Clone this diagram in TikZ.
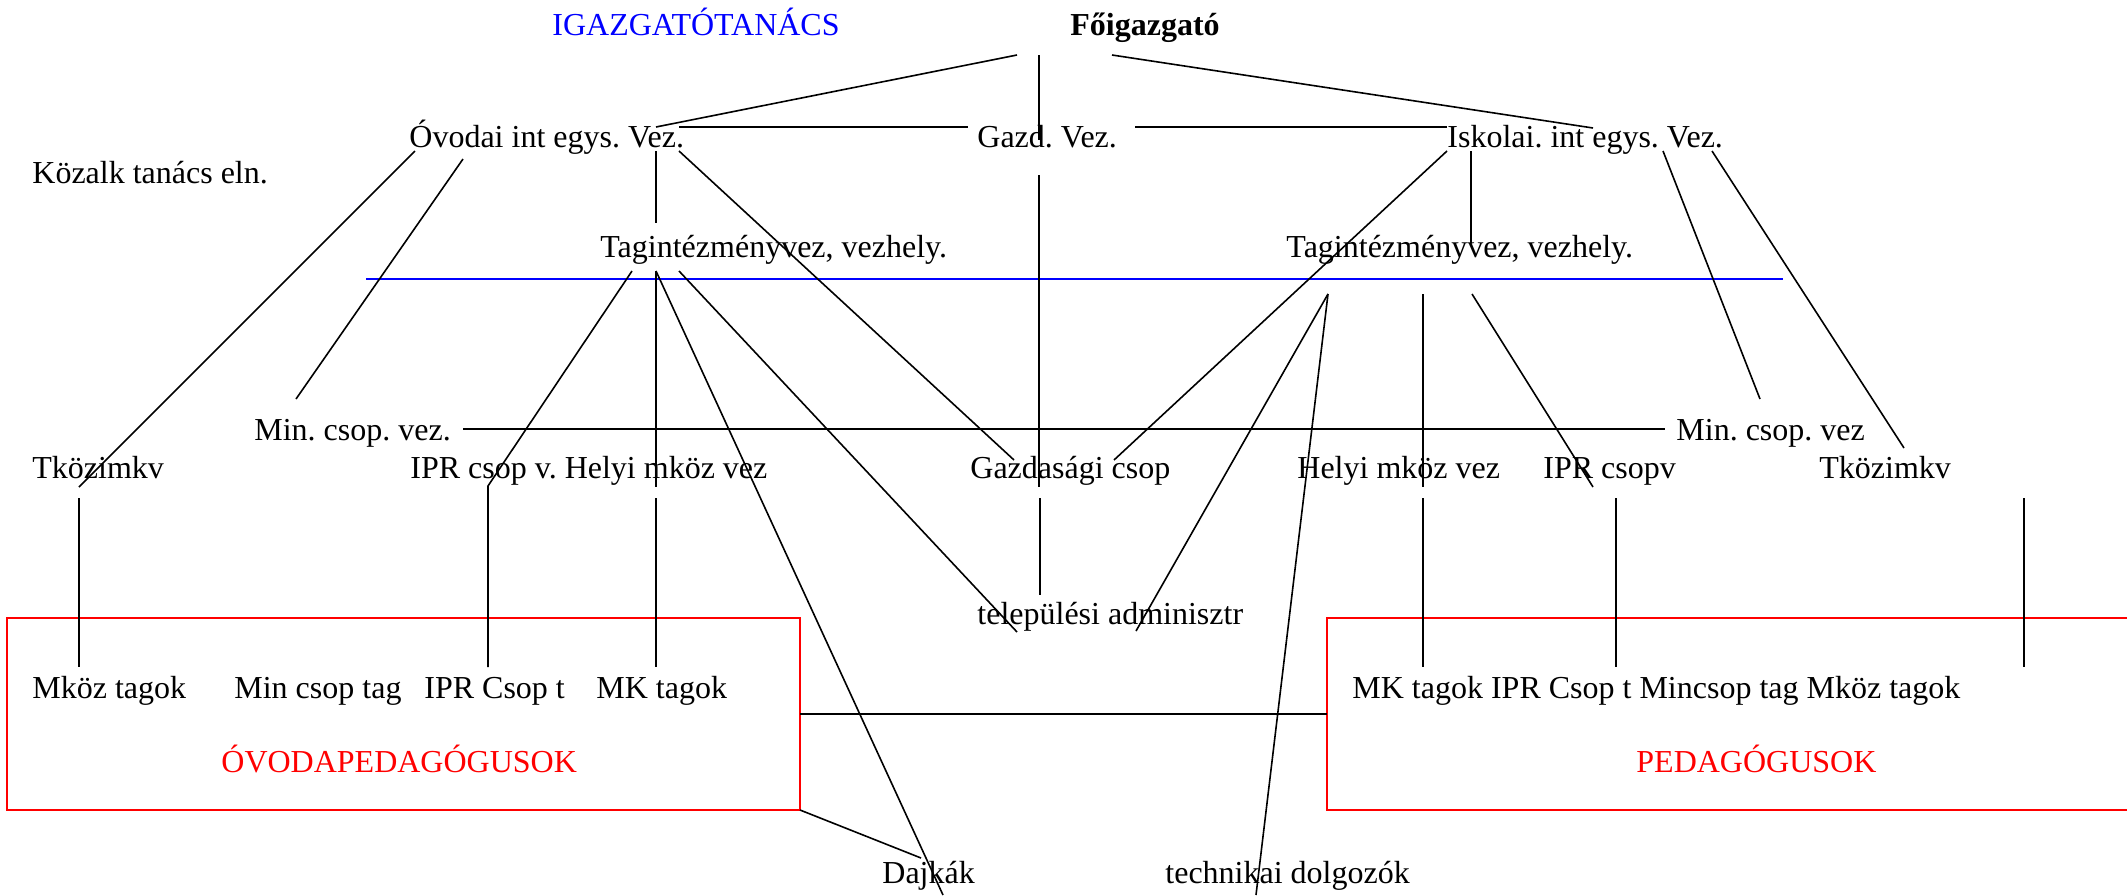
\documentclass[tikz,border=0pt]{standalone}
\usepackage{fontspec}
\setmainfont{Liberation Serif}
\frenchspacing

\begin{document}
\begin{tikzpicture}[x=0.5pt, y=-0.5pt, every node/.style={anchor=base west, inner sep=0pt, font=\fontsize{16}{18}\selectfont}, council/.style={text=blue}, group/.style={text=red}, link/.style={line width=0.8pt}, frame/.style={draw=red, line width=1pt}]
		\useasboundingbox (0,0) rectangle (2127,895);

		% top
		\node[council] (tanacs) at (552,35) {IGAZGATÓTANÁCS};
		\node[font=\fontsize{16}{18}\selectfont\bfseries] (fo) at (1070,35) {Főigazgató};
		\node (ovodai) at (409,147) {Óvodai int egys. Vez.};
		\node (gazd) at (977,147) {Gazd. Vez.};
		\node (iskolai) at (1447,147) {Iskolai. int egys. Vez.};
		\node (kozalk) at (32,183) {Közalk tanács eln.};
		\node (tagL) at (600,257) {Tagintézményvez, vezhely.};
		\node (tagR) at (1286,257) {Tagintézményvez, vezhely.};

		% middle
		\node (mincsL) at (254,440) {Min. csop. vez.};
		\node (mincsR) at (1676,440) {Min. csop. vez};
		\node (tkozL) at (32,478) {Tközimkv};
		\node (iprL) at (410,478) {IPR csop v. Helyi mköz vez};
		\node (gazdcs) at (970,478) {Gazdasági csop};
		\node (helyiR) at (1297,478) {Helyi mköz vez};
		\node (iprR) at (1543,478) {IPR csopv};
		\node (tkozR) at (1819,478) {Tközimkv};
		\node (telep) at (977,624) {települési adminisztr};

		% groups
		\node (mkozL) at (32,698) {Mköz tagok};
		\node (mincstL) at (234,698) {Min csop tag};
		\node (iprtL) at (424,698) {IPR Csop t};
		\node (mktL) at (596,698) {MK tagok};
		\node (tagokR) at (1352,698) {MK tagok IPR Csop t Mincsop tag Mköz tagok};
		\node[group] (ovped) at (221,772) {ÓVODAPEDAGÓGUSOK};
		\node[group] (ped) at (1636,772) {PEDAGÓGUSOK};
		\node (dajkak) at (882,883) {Dajkák};
		\node (techn) at (1165,883) {technikai dolgozók};

		% line ends
		\coordinate (foA) at (1017,55);
		\coordinate (foB) at (1039,55);
		\coordinate (foC) at (1112,55);
		\coordinate (ovTop) at (656,127);
		\coordinate (ovR) at (679,127);
		\coordinate (gzL) at (968,127);
		\coordinate (gzR) at (1135,127);
		\coordinate (gzTop) at (1039,140);
		\coordinate (isL) at (1447,127);
		\coordinate (isTop) at (1593,128);
		\coordinate (ovA) at (415,151);
		\coordinate (ovB) at (463,159);
		\coordinate (ovV) at (656,151);
		\coordinate (ovC) at (679,151);
		\coordinate (gzBot) at (1039,175);
		\coordinate (isA) at (1447,151);
		\coordinate (isV) at (1471,151);
		\coordinate (isB) at (1663,151);
		\coordinate (isC) at (1712,151);
		\coordinate (tagLtop) at (656,223);
		\coordinate (tagRtop) at (1471,243);
		\coordinate (blueL) at (366,279);
		\coordinate (blueR) at (1783,279);
		\coordinate (tagLa) at (632,271);
		\coordinate (tagLb) at (656,271);
		\coordinate (tagLc) at (679,271);
		\coordinate (tagRa) at (1328,294);
		\coordinate (tagRb) at (1423,294);
		\coordinate (tagRc) at (1472,294);
		\coordinate (mcLend) at (296,399);
		\coordinate (mcRend) at (1760,399);
		\coordinate (mcA) at (463,429);
		\coordinate (mcB) at (1665,429);
		\coordinate (tkRend) at (1904,448);
		\coordinate (gcA) at (1014,460);
		\coordinate (gcB) at (1114,460);
		\coordinate (tkLend) at (79,487);
		\coordinate (iprBend) at (488,486);
		\coordinate (helyiLa) at (656,487);
		\coordinate (gcTop) at (1039,487);
		\coordinate (helyiRa) at (1423,487);
		\coordinate (iprRend) at (1593,487);
		\coordinate (tkLb) at (79,498);
		\coordinate (helyiLb) at (656,498);
		\coordinate (gcBot) at (1040,498);
		\coordinate (helyiRb) at (1423,498);
		\coordinate (iprRb) at (1616,498);
		\coordinate (tkRb) at (2024,498);
		\coordinate (gcEnd) at (1040,595);
		\coordinate (telepA) at (1017,632);
		\coordinate (telepB) at (1136,631);
		\coordinate (mkozTop) at (79,667);
		\coordinate (iprtTop) at (488,667);
		\coordinate (mktTop) at (656,667);
		\coordinate (mktRTop) at (1423,667);
		\coordinate (iprtRTop) at (1616,667);
		\coordinate (mkozRTop) at (2024,667);
		\coordinate (boxLr) at (800,714);
		\coordinate (boxRl) at (1327,714);
		\coordinate (boxLcorner) at (800,810);
		\coordinate (dajkakA) at (921,858);
		\coordinate (dajkakB) at (943,895);
		\coordinate (technA) at (1256,895);

		% boxes
		\draw[frame] (7,618) rectangle (boxLcorner);
		\draw[frame] (2127,618) -- (1327,618) -- (1327,810) -- (2127,810);
		\draw[blue, line width=1pt] (blueL) -- (blueR);

		% leaders
		\draw[link] (foA) -- (ovTop);
		\draw[link] (foB) -- (gzTop);
		\draw[link] (foC) -- (isTop);
		\draw[link] (ovR) -- (gzL);
		\draw[link] (gzR) -- (isL);
		\draw[link] (ovV) -- (tagLtop);
		\draw[link] (isV) -- (tagRtop);
		\draw[link] (ovA) -- (tkLend);
		\draw[link] (ovB) -- (mcLend);
		\draw[link] (ovC) -- (gcA);
		\draw[link] (gzBot) -- (gcTop);
		\draw[link] (isA) -- (gcB);
		\draw[link] (isB) -- (mcRend);
		\draw[link] (isC) -- (tkRend);
		\draw[link] (mcA) -- (mcB);

		% from the left vice heads
		\draw[link] (tagLa) -- (iprBend) -- (iprtTop);
		\draw[link] (tagLb) -- (helyiLa);
		\draw[link] (helyiLb) -- (mktTop);
		\draw[link] (tagLb) -- (dajkakB);
		\draw[link] (tagLc) -- (telepA);

		% from the right vice heads
		\draw[link] (tagRa) -- (telepB);
		\draw[link] (tagRa) -- (technA);
		\draw[link] (tagRb) -- (helyiRa);
		\draw[link] (helyiRb) -- (mktRTop);
		\draw[link] (tagRc) -- (iprRend);

		% down to the members
		\draw[link] (tkLb) -- (mkozTop);
		\draw[link] (gcBot) -- (gcEnd);
		\draw[link] (iprRb) -- (iprtRTop);
		\draw[link] (tkRb) -- (mkozRTop);
		\draw[link] (boxLr) -- (boxRl);
		\draw[link] (boxLcorner) -- (dajkakA);
	\end{tikzpicture}
\end{document}
